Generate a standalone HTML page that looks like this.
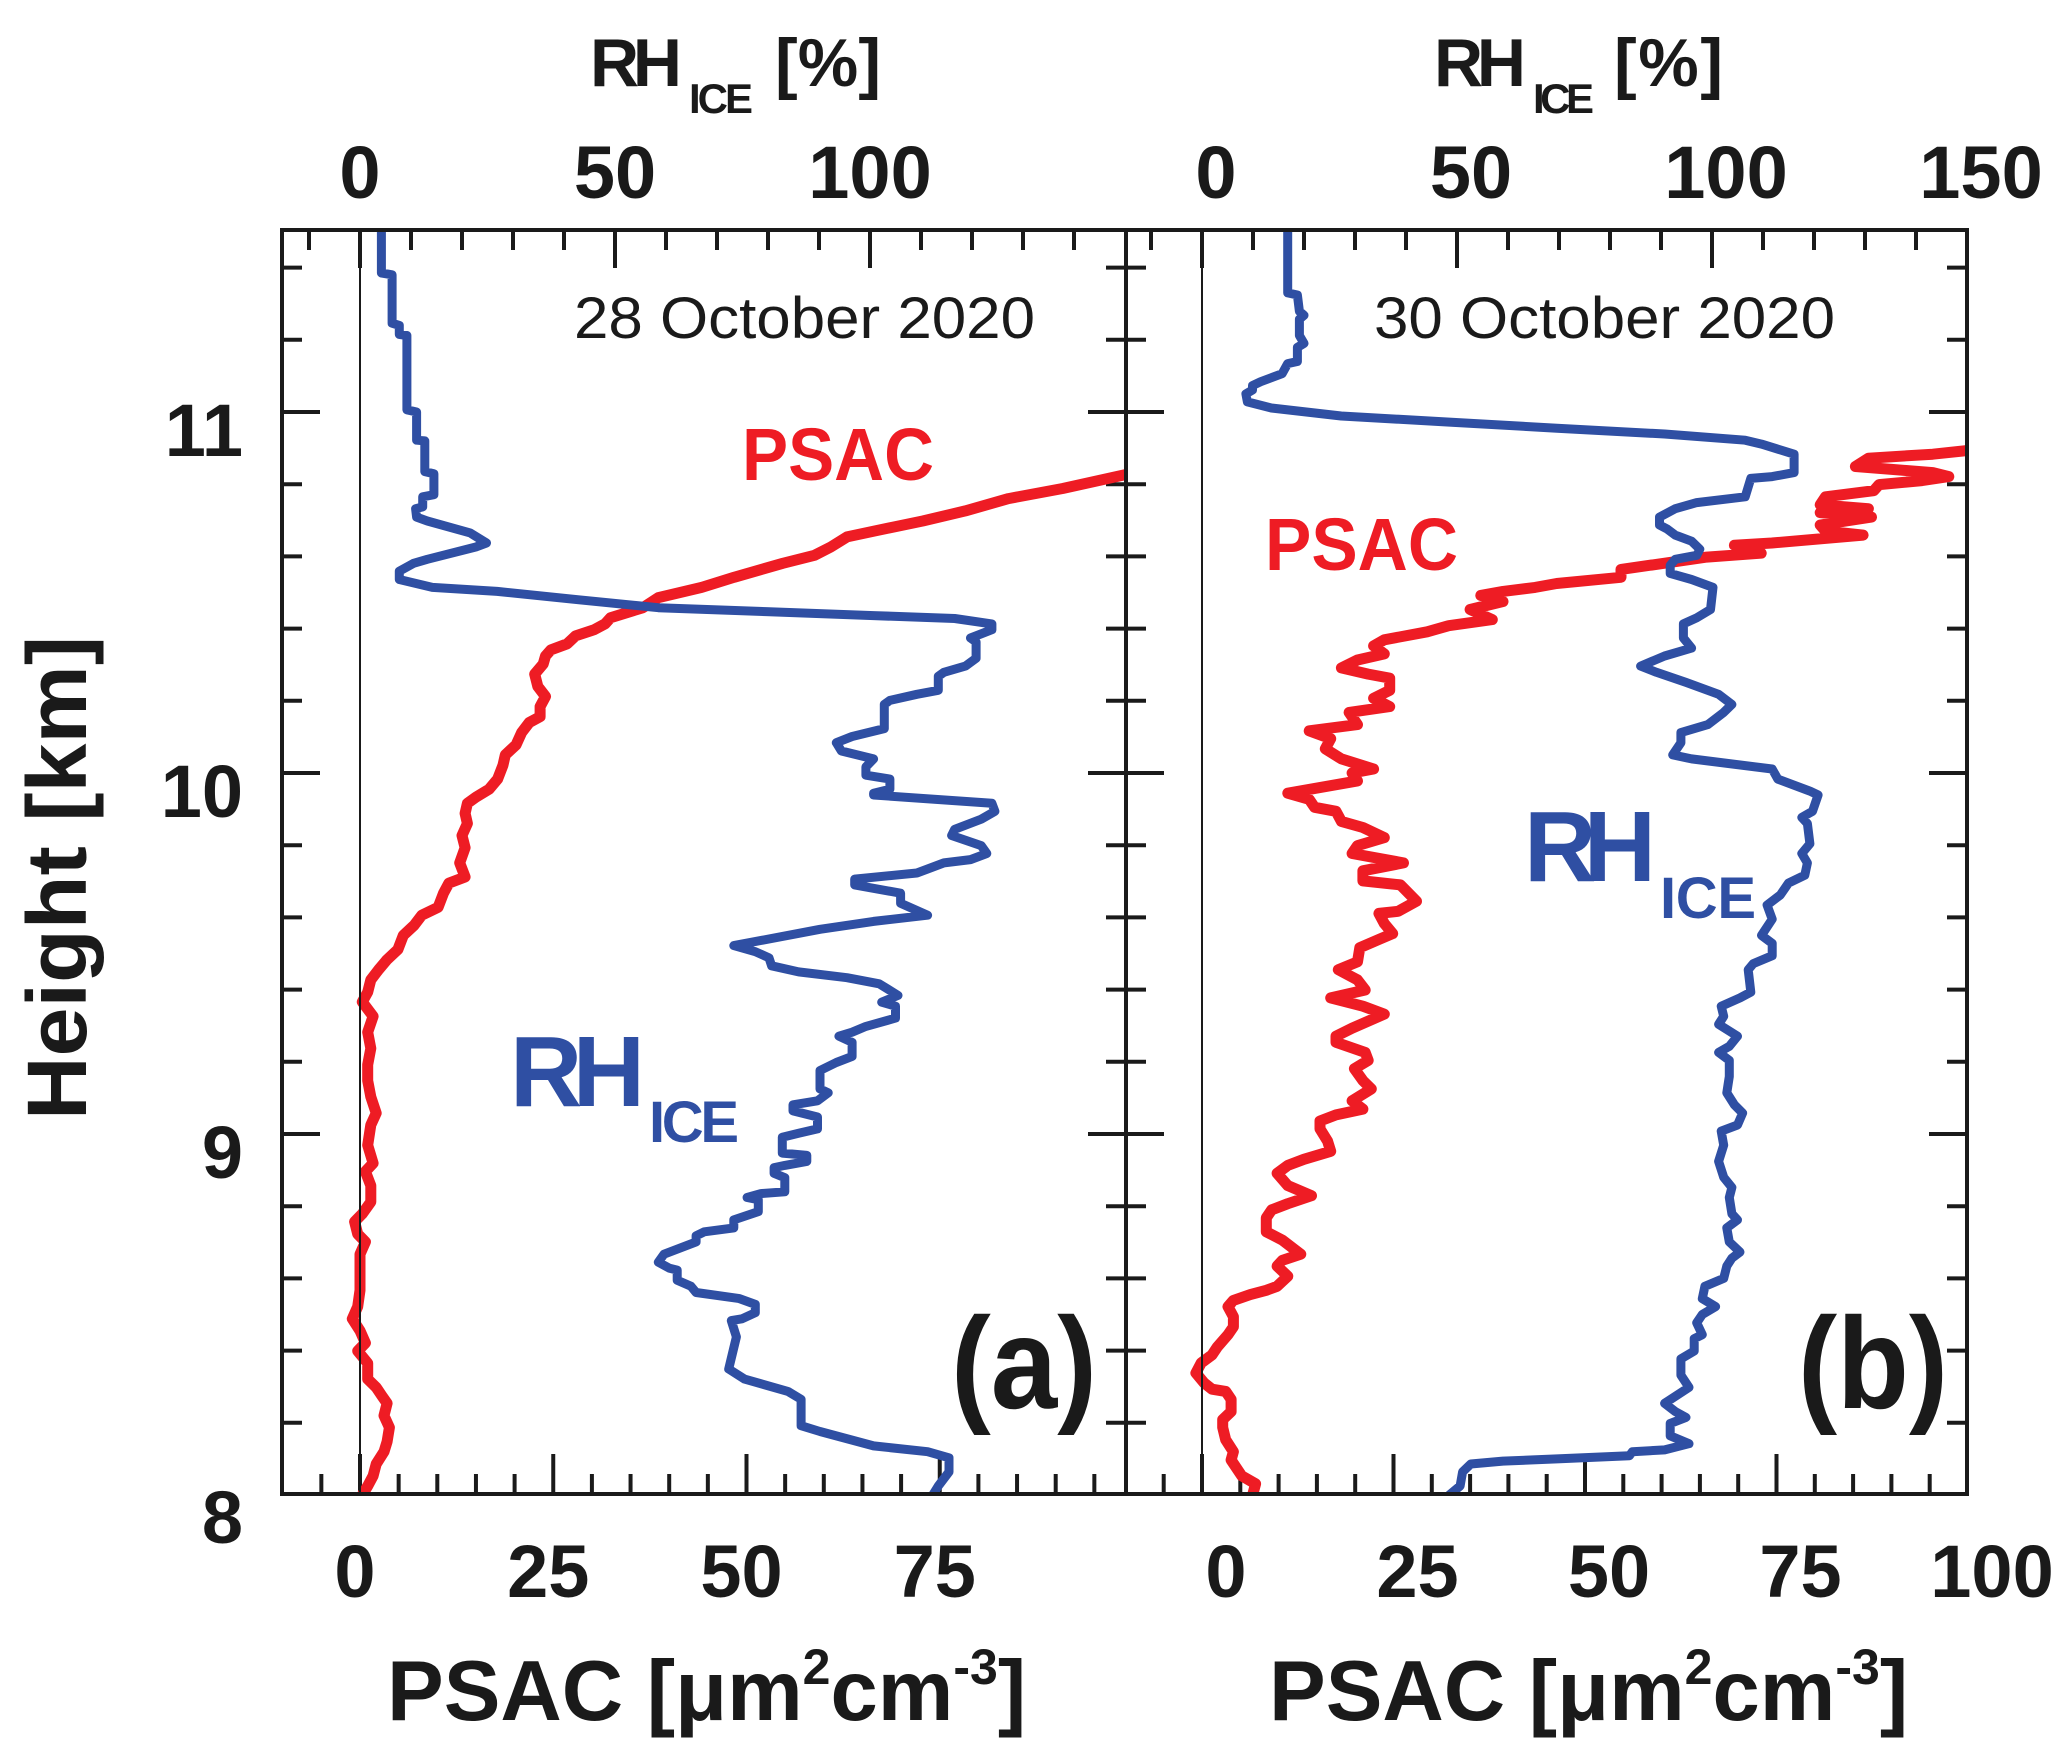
<!DOCTYPE html>
<html><head><meta charset="utf-8"><style>
html,body{margin:0;padding:0;background:#fff;}
svg{display:block;font-family:"Liberation Sans",Arial,sans-serif;}
</style></head><body>
<svg id="chart" width="2067" height="1750" viewBox="0 0 2067 1750" xmlns="http://www.w3.org/2000/svg">
<defs>
<clipPath id="clipA"><rect x="282" y="230" width="844" height="1264"/></clipPath>
<clipPath id="clipB"><rect x="1126" y="230" width="841" height="1264"/></clipPath>
</defs>
<g id="ticks"></g>
<g id="series"></g>
<rect x="282" y="230" width="1685" height="1264" fill="none" stroke="#1a1a1a" stroke-width="4"/>
<line x1="1126" y1="230" x2="1126" y2="1494" stroke="#1a1a1a" stroke-width="4"/>
<line x1="360" y1="230" x2="360" y2="1494" stroke="#1a1a1a" stroke-width="2"/>
<line x1="1202" y1="230" x2="1202" y2="1494" stroke="#1a1a1a" stroke-width="2"/>
<g id="labels" font-weight="bold" fill="#1a1a1a"></g>
<text font-weight="bold" fill="#1a1a1a"><tspan x="590" y="86" font-size="68" textLength="92">RH</tspan><tspan x="689" y="113" font-size="42" textLength="64">ICE</tspan><tspan x="775" y="86" font-size="68" textLength="106">[%]</tspan></text>
<text font-weight="bold" fill="#1a1a1a"><tspan x="1434" y="86" font-size="68" textLength="92">RH</tspan><tspan x="1533" y="113" font-size="42" textLength="61">ICE</tspan><tspan x="1614" y="86" font-size="68" textLength="109">[%]</tspan></text>
<text font-weight="bold" fill="#1a1a1a" font-size="85"><tspan x="387" y="1720">PSAC [μm</tspan><tspan dy="-36" font-size="50">2</tspan><tspan dy="36">cm</tspan><tspan dy="-36" font-size="50">-3</tspan><tspan dy="36">]</tspan></text>
<text font-weight="bold" fill="#1a1a1a" font-size="85"><tspan x="1269" y="1720">PSAC [μm</tspan><tspan dy="-36" font-size="50">2</tspan><tspan dy="36">cm</tspan><tspan dy="-36" font-size="50">-3</tspan><tspan dy="36">]</tspan></text>
<text font-weight="bold" fill="#1a1a1a" font-size="84" text-anchor="middle" transform="translate(86,878) rotate(-90)" textLength="484" lengthAdjust="spacingAndGlyphs">Height [km]</text>
<text x="574" y="338" font-size="58" fill="#1a1a1a" textLength="461" lengthAdjust="spacingAndGlyphs">28 October 2020</text>
<text x="1374" y="338" font-size="58" fill="#1a1a1a" textLength="461" lengthAdjust="spacingAndGlyphs">30 October 2020</text>
<text x="742" y="480" font-size="74" font-weight="bold" fill="#ee1c24" textLength="192" lengthAdjust="spacingAndGlyphs">PSAC</text>
<text x="1265" y="570" font-size="74" font-weight="bold" fill="#ee1c24" textLength="193" lengthAdjust="spacingAndGlyphs">PSAC</text>
<text font-weight="bold" fill="#2f4fa3"><tspan x="510" y="1106" font-size="100" textLength="135">RH</tspan><tspan x="649" y="1142" font-size="58" textLength="90">ICE</tspan></text>
<text font-weight="bold" fill="#2f4fa3"><tspan x="1524" y="881" font-size="100" textLength="132">RH</tspan><tspan x="1660" y="918" font-size="58" textLength="96">ICE</tspan></text>
<text x="951" y="1408" font-size="130" font-weight="bold" fill="#1a1a1a" textLength="146" lengthAdjust="spacingAndGlyphs">(a)</text>
<text x="1798" y="1408" font-size="130" font-weight="bold" fill="#1a1a1a" textLength="150" lengthAdjust="spacingAndGlyphs">(b)</text>
</svg>
<script>
// Panel (a) RH_ice: heights (km) and values (%)
const aRhH=[11.50,11.385,11.38,11.246,11.24,11.215,11.212,11.006,11.0,10.922,10.92,10.835,10.829,10.771,10.765,10.737,10.732,10.709,10.698,10.665,10.637,10.626,10.592,10.581,10.559,10.536,10.514,10.503,10.48,10.458,10.447,10.436,10.428,10.413,10.397,10.374,10.363,10.318,10.296,10.279,10.268,10.229,10.218,10.201,10.19,10.123,10.101,10.084,10.061,10.039,10.017,9.994,9.983,9.955,9.944,9.939,9.916,9.894,9.872,9.844,9.827,9.799,9.777,9.76,9.751,9.734,9.723,9.706,9.690,9.667,9.639,9.606,9.589,9.567,9.522,9.505,9.488,9.466,9.449,9.433,9.416,9.384,9.365,9.354,9.321,9.298,9.282,9.271,9.254,9.215,9.198,9.176,9.125,9.114,9.092,9.081,9.064,9.047,9.014,9.002,8.991,8.947,8.941,8.924,8.913,8.907,8.891,8.879,8.840,8.835,8.824,8.818,8.785,8.762,8.740,8.729,8.718,8.701,8.667,8.645,8.628,8.623,8.595,8.578,8.561,8.544,8.528,8.505,8.488,8.483,8.438,8.349,8.321,8.287,8.265,8.192,8.176,8.136,8.120,8.103,8.064,8.025,8.0];
const aRhV=[4.2,4.2,6.3,6.3,7.7,7.7,9.2,9.2,11.1,11.1,12.7,12.7,14.5,14.5,12.3,12.3,10.9,11.1,13.2,21.6,24.8,22.7,13.2,10.5,7.7,7.7,14.2,26.9,42.7,58.5,79.6,100.7,116.6,123.9,123.9,119.7,120.8,120.8,118.7,114.5,113.4,113.4,109.2,103.9,102.8,102.8,96.5,93.4,94.4,100.7,99.2,99.2,103.9,103.9,100.7,100.7,123.9,124.5,121.8,116.6,116.0,121.8,122.9,119.7,114.5,111.3,109.2,97.0,97.0,106.0,106.0,111.3,100.7,90.2,73.3,77.5,80.2,80.7,86.0,95.5,101.8,105.5,102.3,105.0,105.0,99.2,96.5,93.9,96.5,96.5,93.4,90.2,90.2,91.8,89.7,84.9,84.9,89.7,89.7,86.0,82.8,82.8,87.6,87.6,83.3,81.2,81.2,83.3,83.3,78.6,75.9,78.1,78.1,73.3,73.3,67.5,65.9,65.9,59.6,58.5,60.7,62.2,62.2,64.9,65.9,74.4,77.5,77.5,74.9,72.8,73.8,72.3,75.4,83.9,86.5,86.5,90.2,100.7,111.3,115.5,115.5,113.4,112.3];
// Panel (a) PSAC: heights (km) and values (um2 cm-3)
const aPsH=[10.86,10.827,10.788,10.760,10.726,10.698,10.670,10.654,10.626,10.603,10.581,10.542,10.514,10.486,10.458,10.430,10.413,10.397,10.380,10.358,10.341,10.324,10.302,10.274,10.240,10.212,10.184,10.156,10.140,10.112,10.078,10.050,10.022,9.983,9.955,9.933,9.916,9.888,9.860,9.827,9.793,9.751,9.712,9.695,9.667,9.628,9.606,9.578,9.550,9.511,9.483,9.455,9.427,9.393,9.366,9.326,9.282,9.237,9.192,9.148,9.103,9.058,9.025,8.969,8.919,8.896,8.857,8.812,8.779,8.757,8.723,8.701,8.667,8.623,8.567,8.522,8.488,8.455,8.421,8.399,8.365,8.321,8.298,8.276,8.254,8.220,8.187,8.148,8.120,8.086,8.053,8.025,8.0];
const aPsV=[103,99.1,90.9,83.9,78.3,72.8,66.5,63.0,60.9,58.8,54.7,48.4,44.2,38.6,36.6,32.4,31.7,30.3,27.9,26.8,24.7,24.0,23.7,22.6,23.0,24.0,23.3,23.3,21.9,20.9,20.2,18.8,18.5,17.8,16.7,15.0,13.9,13.6,13.9,13.2,13.6,12.9,13.6,11.5,10.8,10.1,8.0,7.0,5.6,4.9,3.5,2.4,1.4,1.0,0.3,1.7,1.0,1.4,1.0,1.0,1.4,2.1,1.4,1.0,1.7,0.7,1.4,1.4,0.3,-0.7,-0.3,0.7,0,0,0,-0.3,-1.0,0,0.7,-0.3,1.0,1.0,2.1,2.8,3.5,3.1,3.8,3.5,3.1,2.1,1.7,1.0,0.3];
// Panel (b) RH_ice
const bRhH=[11.503,11.330,11.324,11.279,11.268,11.257,11.212,11.190,11.179,11.140,11.134,11.106,11.095,11.084,11.073,11.061,11.050,11.028,11.011,10.989,10.972,10.955,10.939,10.922,10.911,10.883,10.832,10.821,10.816,10.765,10.749,10.732,10.709,10.687,10.676,10.659,10.642,10.620,10.603,10.592,10.575,10.553,10.536,10.514,10.453,10.430,10.413,10.374,10.346,10.324,10.296,10.279,10.251,10.218,10.190,10.168,10.134,10.112,10.084,10.050,10.039,10.011,9.983,9.950,9.939,9.894,9.877,9.860,9.804,9.777,9.751,9.717,9.695,9.662,9.634,9.595,9.550,9.528,9.494,9.472,9.455,9.393,9.377,9.354,9.326,9.304,9.271,9.243,9.226,9.204,9.159,9.114,9.081,9.058,9.025,9.008,8.969,8.924,8.880,8.852,8.824,8.779,8.762,8.740,8.701,8.673,8.656,8.634,8.600,8.578,8.544,8.522,8.500,8.477,8.444,8.433,8.399,8.377,8.332,8.298,8.254,8.231,8.215,8.198,8.164,8.142,8.125,8.120,8.109,8.100,8.094,8.086,8.064,8.025,8.0];
const bRhV=[16.8,16.8,18.7,19.1,20.0,19.1,19.1,20.0,18.7,18.7,16.8,15.7,13.6,11.5,9.9,9.9,8.6,8.9,13.6,27.3,48.5,69.6,90.7,106.5,109.7,116.1,116.1,111.8,107.6,106.5,97.0,92.8,89.7,89.7,91.2,92.8,96.0,97.6,97.0,92.8,91.8,91.8,96.0,100.2,99.7,97.0,94.4,94.4,96.0,90.7,86.0,89.1,94.9,101.3,103.9,102.3,99.2,93.9,93.9,92.3,96.0,111.8,112.9,119.2,120.8,119.7,117.6,118.7,119.2,117.6,118.7,118.2,115.0,113.4,110.8,111.8,109.7,111.8,111.8,108.1,107.1,107.6,105.5,101.8,102.3,101.3,105.0,103.4,101.3,103.4,103.4,102.9,104.4,106.0,105.0,101.8,102.3,101.3,102.3,103.9,103.4,103.9,105.0,102.9,103.4,105.5,103.9,102.9,102.3,98.6,98.1,100.7,98.1,97.0,98.1,96.5,96.5,93.9,93.9,95.5,90.7,92.8,94.9,91.8,91.8,95.5,90.7,84.4,83.8,69.6,59.0,52.7,51.1,50.6,48.5];
// Panel (b) PSAC
const bPsH=[10.91,10.894,10.883,10.872,10.849,10.838,10.832,10.821,10.810,10.799,10.782,10.765,10.743,10.732,10.721,10.709,10.687,10.670,10.659,10.637,10.631,10.609,10.598,10.581,10.564,10.542,10.525,10.514,10.503,10.492,10.475,10.453,10.425,10.408,10.391,10.369,10.352,10.330,10.313,10.291,10.274,10.263,10.229,10.207,10.184,10.168,10.134,10.117,10.095,10.067,10.039,10.011,10.0,9.978,9.944,9.927,9.905,9.894,9.866,9.849,9.821,9.799,9.777,9.751,9.729,9.701,9.690,9.645,9.617,9.611,9.583,9.555,9.539,9.516,9.477,9.455,9.427,9.399,9.377,9.354,9.332,9.293,9.271,9.254,9.226,9.204,9.181,9.148,9.125,9.092,9.069,9.053,9.036,9.014,8.980,8.952,8.930,8.913,8.891,8.857,8.829,8.807,8.790,8.768,8.729,8.706,8.667,8.650,8.634,8.606,8.578,8.567,8.555,8.539,8.522,8.494,8.466,8.444,8.410,8.388,8.366,8.338,8.310,8.293,8.287,8.265,8.231,8.209,8.187,8.153,8.120,8.097,8.053,8.031,8.0];
const bPsV=[104,100.2,95.4,87.0,85.3,91.9,95.4,97.5,94.0,88.4,87.7,81.4,80.7,87.0,80.7,87.4,80.7,81.4,86.3,74.4,69.5,73.0,65.9,60.3,54.7,54.7,46.3,43.5,39.3,36.4,39.3,35.0,37.9,32.2,29.4,23.8,22.4,23.8,20.3,18.2,21.7,24.5,24.5,22.4,24.5,19.2,20.3,14.0,16.8,16.1,18.2,22.4,19.6,20.3,11.2,14.0,14.7,17.5,18.2,21.0,23.8,20.3,19.6,26.3,21.0,21.0,25.9,28.0,25.6,23.1,23.8,24.9,23.1,20.6,20.3,17.8,20.3,21.3,16.8,21.0,23.8,19.6,17.5,17.5,21.3,21.7,19.9,21.0,22.1,19.6,21.0,17.5,15.4,15.4,16.4,16.8,13.3,11.2,9.8,11.2,14.3,11.2,9.1,8.4,8.4,10.5,12.9,10.5,9.8,11.2,9.8,8.4,6.3,4.1,3.4,4.1,4.1,3.4,2.0,1.3,-0.1,-0.8,0.3,1.3,3.1,3.8,3.8,2.7,2.7,3.1,4.1,3.8,5.2,7.0,6.6];
// Tick labels
const yTickLabels=["8","9","10","11"];
const psacTickLabels=["0","25","50","75"];
const psacTickLabelsB=["0","25","50","75","100"];
const rhTickLabelsA=["0","50","100"];
const rhTickLabelsB=["0","50","100","150"];

const NS="http://www.w3.org/2000/svg";
const yOf=h=>773-(h-10)*361;
const psA=v=>360+v*7.73, rhA=v=>360+v*5.10;
const psB=v=>1202+v*7.66, rhB=v=>1202+v*5.10;

function mk(tag,attrs,parent){const e=document.createElementNS(NS,tag);for(const k in attrs)e.setAttribute(k,attrs[k]);parent.appendChild(e);return e;}
const ticks=document.getElementById('ticks');
function tick(x1,y1,x2,y2){const l=mk('line',{x1,y1,x2,y2,stroke:'#1a1a1a','stroke-width':4},ticks);

}
for(let i=1;i<=17;i++){const h=8+i*0.2;const y=yOf(h);const major=Math.abs(h-Math.round(h))<1e-6;const L=major?38:20;
tick(282,y,282+L,y);tick(1126-L,y,1126+L,y);tick(1967-L,y,1967,y);}
for(let v=-10;v<=150;v+=10){const major=v%50===0;const L=major?38:20;const x=rhA(v);if(x>284&&x<1124)tick(x,230,x,230+L);const xb=rhB(v);if(xb>1128&&xb<1965)tick(xb,230,xb,230+L);}
for(let v=-10;v<=100;v+=5){const major=v%25===0;const L=major?40:20;const x=psA(v);if(x>284&&x<1124)tick(x,1494,x,1494-L);const xb=psB(v);if(xb>1128&&xb<1965)tick(xb,1494,xb,1494-L);}

const labels=document.getElementById('labels');
function lab(txt,x,y,size,anchor){const t=mk('text',{x,y,'font-size':size,'text-anchor':anchor},labels);t.textContent=txt;

}
yTickLabels.forEach((s,i)=>lab(s,243,yOf(+s)+ (i===0?48:44),74,'end'));
psacTickLabels.forEach(s=>lab(s,psA(+s)-5,1597,74,'middle'));
psacTickLabelsB.forEach(s=>lab(s,psB(+s)+24,1597,74,'middle'));
rhTickLabelsA.forEach(s=>lab(s,rhA(+s),198,74,'middle'));
rhTickLabelsB.forEach(s=>lab(s,rhB(+s)+14,198,74,'middle'));

const series=document.getElementById('series');
function line(H,V,fx,color,w,clip,name){let d='';for(let i=0;i<H.length;i++){d+=(i?'L':'M')+fx(V[i]).toFixed(1)+','+yOf(H[i]).toFixed(1);}
const p=mk('path',{d,fill:'none',stroke:color,'stroke-width':w,'stroke-linejoin':'round','stroke-linecap':'round','clip-path':'url(#'+clip+')'},series);

}
line(aPsH,aPsV,psA,'#ee1c24',11,'clipA','psac-line-a');
line(aRhH,aRhV,rhA,'#2f4fa3',9,'clipA','rhice-line-a');
line(bPsH,bPsV,psB,'#ee1c24',11,'clipB','psac-line-b');
line(bRhH,bRhV,rhB,'#2f4fa3',9,'clipB','rhice-line-b');
</script>
</body></html>
